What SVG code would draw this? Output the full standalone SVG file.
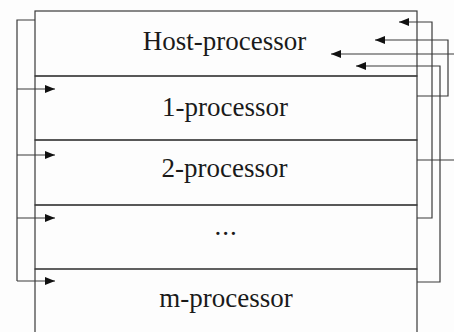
<svg xmlns="http://www.w3.org/2000/svg" width="454" height="332" viewBox="0 0 454 332">
<style>
.box{fill:none;stroke:#3a3a3a;stroke-width:1.2}
.lbl{font-family:"Liberation Serif","Times New Roman",serif;font-size:27px;fill:#1a1a1a;text-anchor:middle}
.wire{fill:none;stroke:#3a3a3a;stroke-width:1.2}
</style>
<defs>
<marker id="ah" viewBox="0 0 10 8" refX="10" refY="4" markerWidth="10" markerHeight="8" markerUnits="userSpaceOnUse" orient="auto">
<path d="M0,0 L10,4 L0,8 z" fill="#111"/>
</marker>
</defs>
<rect width="454" height="332" fill="#fdfdfd"/>
<g id="host">
<rect class="box" x="35" y="11" width="382" height="65"/>
<text class="lbl" x="224.5" y="49.5">Host-processor</text>
</g>
<g id="p1">
<rect class="box" x="35" y="76" width="382" height="64"/>
<text class="lbl" x="225" y="116">1-processor</text>
</g>
<g id="p2">
<rect class="box" x="35" y="140" width="382" height="65"/>
<text class="lbl" x="224.5" y="177">2-processor</text>
</g>
<g id="pdots">
<rect class="box" x="35" y="205" width="382" height="64"/>
<text class="lbl" x="226" y="235" letter-spacing="1">...</text>
</g>
<g id="pm">
<path class="box" d="M35,332 V269 H417 V332"/>
<text class="lbl" x="226" y="307">m-processor</text>
</g>
<g id="connectors">
<path class="wire" d="M35,20 H17 V281"/>
<path class="wire" d="M17,89 H55" marker-end="url(#ah)"/>
<path class="wire" d="M17,155 H55" marker-end="url(#ah)"/>
<path class="wire" d="M17,218 H55" marker-end="url(#ah)"/>
<path class="wire" d="M17,281 H55" marker-end="url(#ah)"/>
<path class="wire" d="M417,218 H432 V22 H399" marker-end="url(#ah)"/>
<path class="wire" d="M417,282 H440 V66 H356" marker-end="url(#ah)"/>
<path class="wire" d="M417,96 H448 V40 H375" marker-end="url(#ah)"/>
<path class="wire" d="M454,54 H331" marker-end="url(#ah)"/>
<path class="wire" d="M417,160 H454"/>
</g>
</svg>
